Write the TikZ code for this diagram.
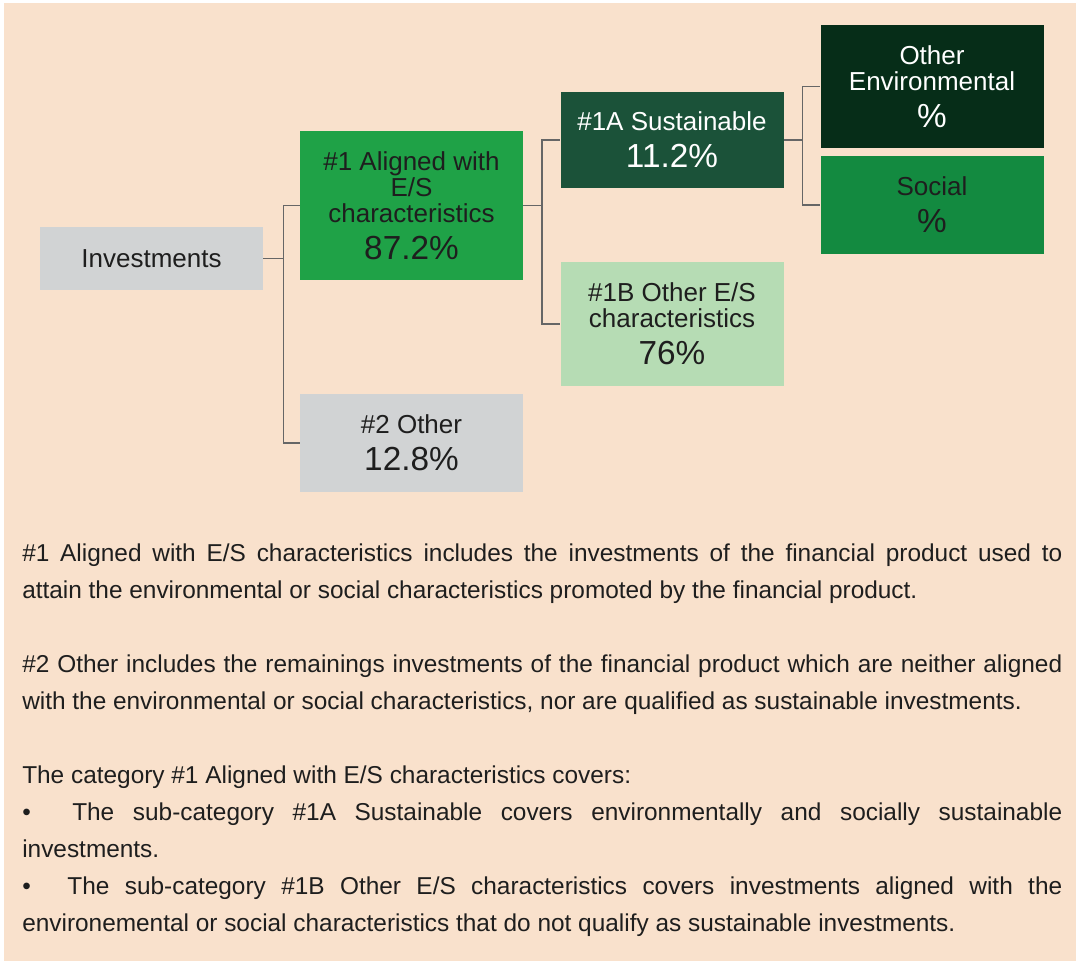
\documentclass[tikz,border=0pt]{standalone}
\usepackage{fontspec}
\setmainfont{Liberation Sans}
\definecolor{peach}{HTML}{F9E1CC}
\definecolor{boxgray}{HTML}{D1D3D4}
\definecolor{greenmid}{HTML}{1FA247}
\definecolor{greendark}{HTML}{1B5239}
\definecolor{greenlight}{HTML}{B6DCB4}
\definecolor{greendeep}{HTML}{062D18}
\definecolor{greensoc}{HTML}{138A40}
\definecolor{linkgray}{HTML}{666666}
\definecolor{inkdark}{HTML}{1E1E1E}
\newcommand{\pct}[1]{\\[8.5pt]{\fontsize{25}{25}\selectfont #1}}
\tikzset{
  box/.style={rectangle, inner sep=0pt, align=center, minimum width=167.25pt,
    font=\fontsize{19.5}{19.5}\selectfont, text=inkdark},
  link/.style={draw=linkgray, line width=1.1pt},
}

\begin{document}
\begin{tikzpicture}[x=0.75pt,y=0.75pt,yscale=-1,xscale=1]
        \useasboundingbox (0,0) rectangle (1080,964);
        \fill[white] (0,0) rectangle (1080,964);
        %Shape: Rectangle [background]
        \fill[peach] (4,3) rectangle (1076,961);
        %Shape: Rectangle [investments]
        \node[box, fill=boxgray, minimum height=47.25pt] (inv) at (151.5,258.5) {Investments};
        %Shape: Rectangle [aligned]
        \node[box, fill=greenmid, minimum height=111.75pt] (aligned) at (411.5,205.5) {\#1 Aligned with\\E/S\\characteristics\pct{87.2\%}};
        %Shape: Rectangle [other]
        \node[box, fill=boxgray, minimum height=73.5pt] (other) at (411.5,443) {\#2 Other\pct{12.8\%}};
        %Shape: Rectangle [sustainable]
        \node[box, fill=greendark, text=white, minimum height=72pt] (sust) at (672,140) {\#1A Sustainable\pct{11.2\%}};
        %Shape: Rectangle [other E/S]
        \node[box, fill=greenlight, minimum height=93pt] (esb) at (672,324) {\#1B Other E/S\\characteristics\pct{76\%}};
        %Shape: Rectangle [environmental]
        \node[box, fill=greendeep, text=white, minimum height=92.25pt] (env) at (932,86.5) {Other\\Environmental\pct{\%}};
        %Shape: Rectangle [social]
        \node[box, fill=greensoc, minimum height=73.5pt] (soc) at (932,205) {Social\pct{\%}};
        %Straight Lines
        \draw[link] (inv.east) -- ++(15pt,0) |- (aligned.west);
        \draw[link] (inv.east) -- ++(15pt,0) |- (other.west);
        \draw[link] (aligned.east) -- ++(14pt,0) |- (sust.west);
        \draw[link] (aligned.east) -- ++(14pt,0) |- (esb.west);
        \draw[link] (sust.east) -- ++(14pt,0) |- (env.west);
        \draw[link] (sust.east) -- ++(14pt,0) |- (soc.west);
        % Text Node
        \node[anchor=north west, inner sep=0pt, text width=780pt, align=justify,
          font=\fontsize{18.3}{27.75}\selectfont, text=inkdark] (notes) at (22,544) {%
          \setlength{\parskip}{27.75pt}%
          \#1 Aligned with E/S characteristics includes the investments of the financial product used to\linebreak
          attain the environmental or social characteristics promoted by the financial product.\par
          \#2 Other includes the remainings investments of the financial product which are neither aligned\linebreak
          with the environmental or social characteristics, nor are qualified as sustainable investments.\par
          The category \#1 Aligned with E/S characteristics covers:\newline
          \textbullet\hspace{1.7em}The sub-category \#1A Sustainable covers environmentally and socially sustainable\linebreak
          investments.\newline
          \textbullet\hspace{1.5em}The sub-category \#1B Other E/S characteristics covers investments aligned with the\linebreak
          environemental or social characteristics that do not qualify as sustainable investments.};
\end{tikzpicture}
\end{document}
